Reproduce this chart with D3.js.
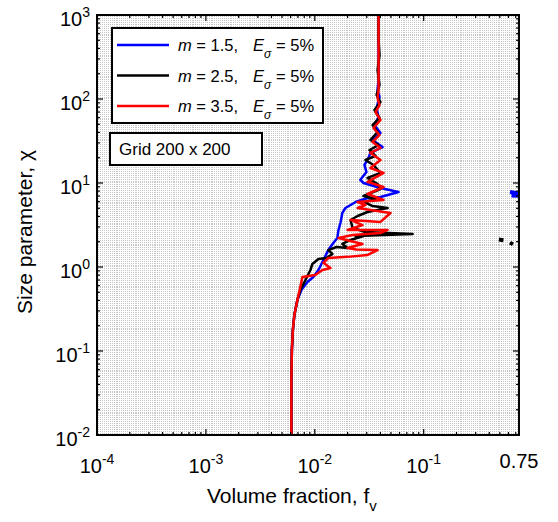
<!DOCTYPE html>
<html>
<head>
<meta charset="utf-8">
<script src="https://cdn.jsdelivr.net/npm/d3@7"></script>
<style>
  body { margin: 0; background: #fff; }
  text { font-family: Arial, "Liberation Sans", sans-serif; fill: #000; }
</style>
</head>
<body>
<div id="canvas"></div>
<script>
const MARGIN = { LEFT: 97, RIGHT: 39, TOP: 15, BOTTOM: 87 };
const WIDTH = 558 - MARGIN.LEFT - MARGIN.RIGHT;
const HEIGHT = 522 - MARGIN.TOP - MARGIN.BOTTOM;

// x = volume fraction f_v, y = size parameter chi
const lowerPart = [[0.00609, 0.01], [0.00609, 0.0452], [0.00616, 0.103], [0.00629, 0.178], [0.00649, 0.268], [0.00692, 0.405]];

const m15 = lowerPart.concat([
  [0.00753, 0.532], [0.00855, 0.663], [0.0097, 0.76], [0.0108, 0.921], [0.012, 1.21], [0.0133, 1.59],
  [0.0148, 1.93], [0.0161, 2.21], [0.0165, 2.76], [0.0172, 3.34], [0.0179, 4.40], [0.0191, 5.04],
  [0.0213, 5.47], [0.0237, 5.94], [0.0305, 6.62], [0.0401, 6.81], [0.0587, 7.81], [0.0401, 8.71],
  [0.028, 10.0], [0.0262, 10.9], [0.0298, 13.5], [0.0286, 16.4], [0.0311, 19.9], [0.0324, 22.8],
  [0.0419, 26.8], [0.0339, 32.5], [0.0401, 39.3], [0.0353, 49.0], [0.0385, 61.1], [0.0369, 78.2],
  [0.0393, 106], [0.0377, 128], [0.0385, 168], [0.0385, 1000]
]);
const m15Pieces = [[[0.62, 7.8], [0.8, 7.4]], [[0.64, 7.1], [0.8, 7.0]]];

const m25 = lowerPart.concat([
  [0.00737, 0.532], [0.0082, 0.700], [0.00912, 0.921], [0.0095, 1.086], [0.0108, 1.245], [0.0128, 1.28],
  [0.0145, 1.43], [0.0133, 1.59], [0.0158, 1.73], [0.02, 1.68], [0.0179, 1.88], [0.0213, 2.10],
  [0.028, 2.34], [0.0237, 2.34], [0.0791, 2.47], [0.0292, 2.61], [0.0222, 2.91], [0.0213, 3.63],
  [0.0247, 4.05], [0.0305, 4.52], [0.0466, 5.04], [0.0339, 5.32], [0.0286, 5.94], [0.0361, 6.45],
  [0.028, 7.00], [0.0401, 8.48], [0.0377, 9.73], [0.0305, 11.5], [0.0401, 13.2], [0.0346, 16.4],
  [0.0292, 18.8], [0.0361, 21.0], [0.0318, 24.7], [0.0385, 28.3], [0.0324, 32.5], [0.0377, 40.5],
  [0.0339, 49.0], [0.0393, 59.4], [0.0353, 74], [0.0401, 92.1], [0.0369, 112], [0.0393, 147],
  [0.0377, 221], [0.0393, 334], [0.0385, 504], [0.0385, 1000]
]);
const m25Pieces = [[[0.49, 2.12], [0.54, 2.08]], [[0.62, 1.95], [0.66, 1.86]]];

const m35 = lowerPart.concat([
  [0.0077, 0.76], [0.0101, 0.803], [0.01175, 0.921], [0.0139, 0.973], [0.012, 1.12], [0.0133, 1.28],
  [0.02, 1.32], [0.0305, 1.39], [0.0377, 1.59], [0.024, 1.62], [0.02, 1.68], [0.0274, 1.88], [0.0165, 2.21],
  [0.0222, 2.40], [0.0401, 2.54], [0.0466, 2.76], [0.02, 2.76], [0.0274, 3.16], [0.0213, 3.63],
  [0.0401, 3.44], [0.0495, 4.40], [0.0247, 5.04], [0.0292, 5.47], [0.0247, 5.94], [0.0428, 6.28],
  [0.0305, 7.40], [0.0428, 8.96], [0.0305, 10.3], [0.0428, 13.2], [0.0324, 15.1], [0.0401, 18.8],
  [0.0324, 22.8], [0.0401, 26.1], [0.0339, 30.8], [0.0393, 37.3], [0.0346, 45.2], [0.0401, 56.2],
  [0.0361, 70.0], [0.0393, 84.8], [0.0377, 103], [0.0385, 128], [0.0385, 1000]
]);

const seriesNames = ['1.5', '2.5', '3.5'];
const seriesColors = ['#0000ff', '#000000', '#ff0000'];
const xTicks = [1e-4, 1e-3, 1e-2, 1e-1, 0.75];
const yTicks = [1e-2, 1e-1, 1e0, 1e1, 1e2, 1e3];

const svg = d3.select('#canvas').append('svg')
  .attr('width', 558)
  .attr('height', 522);

const g = svg.append('g')
  .attr('transform', `translate(${MARGIN.LEFT}, ${MARGIN.TOP})`);

const x = d3.scaleLog().domain([1e-4, 0.75]).range([0, WIDTH]);
const y = d3.scaleLog().domain([1e-2, 1e3]).range([HEIGHT, 0]);

// background + 200 x 200 grid
g.append('rect').attr('width', WIDTH).attr('height', HEIGHT).attr('fill', '#c6c6c6');
const gx = d3.range(201).map(i => Math.pow(10, -4 + i * (Math.log10(0.75) + 4) / 200));
const gy = d3.range(201).map(i => Math.pow(10, -2 + i * 5 / 200));
const grid = g.append('g').attr('stroke', '#fff').attr('stroke-width', 1).attr('shape-rendering', 'crispEdges');
grid.selectAll('.gv').data(gx).enter().append('line')
  .attr('x1', d => x(d)).attr('x2', d => x(d)).attr('y1', 0).attr('y2', HEIGHT);
grid.selectAll('.gh').data(gy).enter().append('line')
  .attr('y1', d => y(d)).attr('y2', d => y(d)).attr('x1', 0).attr('x2', WIDTH);

svg.append('clipPath').attr('id', 'clip')
  .append('rect').attr('width', WIDTH).attr('height', HEIGHT);

const line = d3.line().x(d => x(d[0])).y(d => y(d[1]));
const curves = g.append('g').attr('clip-path', 'url(#clip)')
  .attr('fill', 'none').attr('stroke-width', 2.5).attr('stroke-linejoin', 'round');

[[m15, m15Pieces], [m25, m25Pieces], [m35, []]].forEach(([main, pieces], i) => {
  curves.append('path').attr('d', line(main)).attr('stroke', seriesColors[i]);
  pieces.forEach(p => curves.append('path').attr('d', line(p))
    .attr('stroke', seriesColors[i]).attr('stroke-width', 4));
});

// legend
const leg = g.append('g').attr('transform', 'translate(15, 13)');
leg.append('rect').attr('width', 211).attr('height', 95)
  .attr('fill', '#fff').attr('stroke', '#000').attr('stroke-width', 2);
seriesNames.forEach((name, i) => {
  const ly = 17 + i * 30.5;
  leg.append('line').attr('x1', 5).attr('x2', 57).attr('y1', ly).attr('y2', ly)
    .attr('stroke', seriesColors[i]).attr('stroke-width', 2.5);
  const t = leg.append('text').attr('y', ly + 6).style('font-size', '16.5px');
  t.append('tspan').attr('x', 66).style('font-style', 'italic').text('m');
  t.append('tspan').text(` = ${name},`);
  t.append('tspan').attr('x', 141).style('font-style', 'italic').text('E');
  t.append('tspan').attr('dy', 7).style('font-style', 'italic').style('font-size', '12px').text('σ');
  t.append('tspan').attr('x', 164).attr('dy', -7).text('= 5%');
});

const gb = g.append('g').attr('transform', 'translate(13, 118)');
gb.append('rect').attr('width', 152).attr('height', 32)
  .attr('fill', '#fff').attr('stroke', '#000').attr('stroke-width', 2);
gb.append('text').attr('x', 9).attr('y', 22).style('font-size', '17px').text('Grid 200 x 200');

// ticks on all four sides
const xMinor = [];
[1e-4, 1e-3, 1e-2, 1e-1].forEach(d => d3.range(2, 10).forEach(k => { if (d * k <= 0.75) xMinor.push(d * k); }));
const yMinor = [];
[1e-2, 1e-1, 1e0, 1e1, 1e2].forEach(d => d3.range(2, 10).forEach(k => yMinor.push(d * k)));
const ticks = g.append('g').attr('stroke', '#000').attr('stroke-width', 1.2);
const addX = (vals, len) => vals.forEach(v => {
  ticks.append('line').attr('x1', x(v)).attr('x2', x(v)).attr('y1', HEIGHT).attr('y2', HEIGHT - len);
  ticks.append('line').attr('x1', x(v)).attr('x2', x(v)).attr('y1', 0).attr('y2', len);
});
const addY = (vals, len) => vals.forEach(v => {
  ticks.append('line').attr('y1', y(v)).attr('y2', y(v)).attr('x1', 0).attr('x2', len);
  ticks.append('line').attr('y1', y(v)).attr('y2', y(v)).attr('x1', WIDTH).attr('x2', WIDTH - len);
});
addX(xMinor, 3); addX(xTicks, 6);
addY(yMinor, 3); addY(yTicks, 6);

g.append('rect').attr('width', WIDTH).attr('height', HEIGHT)
  .attr('fill', 'none').attr('stroke', '#000').attr('stroke-width', 2);

// tick labels
xTicks.forEach(v => {
  const t = g.append('text').attr('x', x(v)).attr('text-anchor', 'middle').style('font-size', '20px');
  if (v === 0.75) {
    t.attr('y', HEIGHT + 33).text('0.75');
  } else {
    t.attr('y', HEIGHT + 38);
    t.append('tspan').text('10');
    t.append('tspan').attr('dy', -9).style('font-size', '14px').text(Math.round(Math.log10(v)));
  }
});
yTicks.forEach(v => {
  const t = g.append('text').attr('x', -7).attr('y', y(v) + 11)
    .attr('text-anchor', 'end').style('font-size', '20px');
  t.append('tspan').text('10');
  t.append('tspan').attr('dy', -9).style('font-size', '14px').text(Math.round(Math.log10(v)));
});

// axis titles
const xt = svg.append('text').attr('x', 207).attr('y', 503).style('font-size', '21px');
xt.append('tspan').text('Volume fraction, f');
xt.append('tspan').attr('dy', 8).style('font-size', '15px').text('v');

svg.append('text')
  .attr('transform', 'translate(32, 232) rotate(-90)')
  .attr('text-anchor', 'middle').style('font-size', '21px')
  .text('Size parameter, χ');
</script>
</body>
</html>
